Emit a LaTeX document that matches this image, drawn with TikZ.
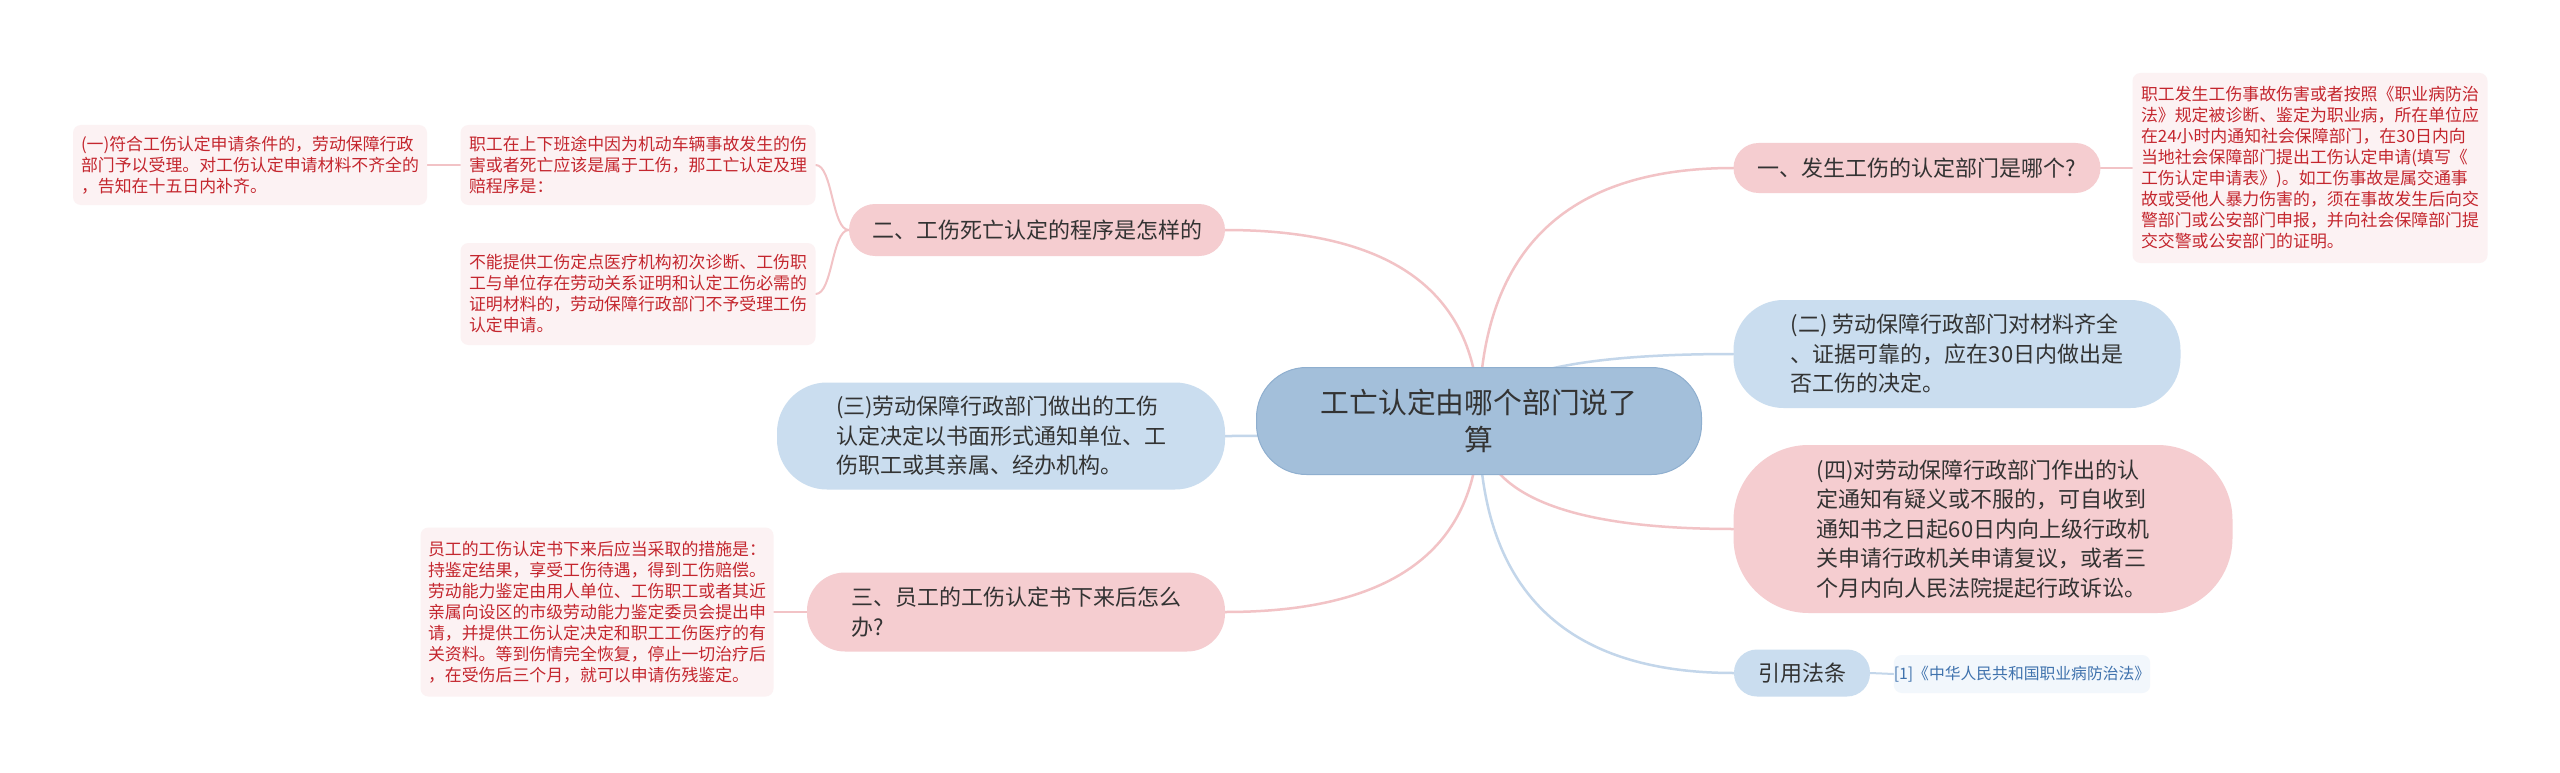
\documentclass[tikz,border=0pt]{standalone}
\usepackage{fontspec}
\setmainfont{Noto Sans CJK SC}
\usepackage{tikz}
\usetikzlibrary{calc,backgrounds}
\definecolor{rootfill}{HTML}{A3BFDA}
\definecolor{rootdraw}{HTML}{8FAFCF}
\definecolor{branchpink}{HTML}{F5CDD0}
\definecolor{branchblue}{HTML}{CADDEF}
\definecolor{leafpink}{HTML}{FCF2F3}
\definecolor{leafpinktext}{HTML}{C4262E}
\definecolor{leafblue}{HTML}{F2F7FC}
\definecolor{leafbluetext}{HTML}{3F72AD}
\definecolor{linkpink}{HTML}{F2C3C6}
\definecolor{linkblue}{HTML}{C3D6EA}
\definecolor{textdark}{HTML}{333333}

\begin{document}
\begin{tikzpicture}[
  x=1pt, y=-1pt,
  box/.style={inner sep=0pt, align=left, text=textdark},
  rootbox/.style={box, fill=rootfill, draw=rootdraw, line width=1pt,
                  rounded corners=50pt, align=center,
                  font=\fontsize{28.8}{37}\selectfont},
  pinkbranch/.style={box, fill=branchpink, font=\fontsize{22}{29.5}\selectfont},
  bluebranch/.style={box, fill=branchblue, font=\fontsize{22}{29.5}\selectfont},
  pinkleaf/.style={box, fill=leafpink, text=leafpinktext, rounded corners=8pt,
                   font=\fontsize{16.9}{21}\selectfont},
  blueleaf/.style={box, fill=leafblue, text=leafbluetext, rounded corners=8pt,
                   font=\fontsize{15.8}{20}\selectfont},
  link/.style={line width=2.5pt, line cap=round},
  pinklink/.style={link, draw=linkpink},
  bluelink/.style={link, draw=linkblue}
]
  \useasboundingbox (0,0) rectangle (2560,773);

  % Root
  \node[rootbox, minimum width=445pt, minimum height=107pt] (root) at (1479,421)
       {工亡认定由哪个部门说了\\算};

  % Right branches
  \node[pinkbranch, rounded corners=25pt, minimum width=367pt, minimum height=50pt]
       (q1) at (1917,168) {一、发生工伤的认定部门是哪个?};
  \node[bluebranch, rounded corners=50pt, minimum width=447pt, minimum height=108pt]
       (s2) at (1957,354)
       {(二) 劳动保障行政部门对材料齐全\\、证据可靠的，应在30日内做出是\\否工伤的决定。};
  \node[pinkbranch, rounded corners=75pt, minimum width=499pt, minimum height=168pt]
       (s4) at (1983,529)
       {(四)对劳动保障行政部门作出的认\\定通知有疑义或不服的，可自收到\\通知书之日起60日内向上级行政机\\关申请行政机关申请复议，或者三\\个月内向人民法院提起行政诉讼。};
  \node[bluebranch, rounded corners=23pt, minimum width=136pt, minimum height=47pt]
       (refs) at (1802,673) {引用法条};

  % Left branches
  \node[pinkbranch, rounded corners=26pt, minimum width=376pt, minimum height=52pt]
       (q2) at (1037,230) {二、工伤死亡认定的程序是怎样的};
  \node[bluebranch, rounded corners=50pt, minimum width=448pt, minimum height=107pt]
       (s3) at (1001,436)
       {(三)劳动保障行政部门做出的工伤\\认定决定以书面形式通知单位、工\\伤职工或其亲属、经办机构。};
  \node[pinkbranch, rounded corners=38pt, minimum width=418pt, minimum height=79pt]
       (q3) at (1016,612) {三、员工的工伤认定书下来后怎么\\办?};

  % Leaves
  \node[pinkleaf, minimum width=355pt, minimum height=190pt] (lawnote) at (2310,168)
       {职工发生工伤事故伤害或者按照《职业病防治\\法》规定被诊断、鉴定为职业病，所在单位应\\在24小时内通知社会保障部门，在30日内向\\当地社会保障部门提出工伤认定申请(填写《\\工伤认定申请表》)。如工伤事故是属交通事\\故或受他人暴力伤害的，须在事故发生后向交\\警部门或公安部门申报，并向社会保障部门提\\交交警或公安部门的证明。};
  \node[blueleaf, minimum width=245pt, minimum height=38pt] (lawref) at (2022,674)
       {[1]《中华人民共和国职业病防治法》};
  \node[pinkleaf, minimum width=355pt, minimum height=80pt] (commute) at (638,165)
       {职工在上下班途中因为机动车辆事故发生的伤\\害或者死亡应该是属于工伤，那工亡认定及理\\赔程序是：};
  \node[pinkleaf, minimum width=354pt, minimum height=80pt] (accept) at (250,165)
       {(一)符合工伤认定申请条件的，劳动保障行政\\部门予以受理。对工伤认定申请材料不齐全的\\，告知在十五日内补齐。};
  \node[pinkleaf, minimum width=355pt, minimum height=102pt] (reject) at (638,294)
       {不能提供工伤定点医疗机构初次诊断、工伤职\\工与单位存在劳动关系证明和认定工伤必需的\\证明材料的，劳动保障行政部门不予受理工伤\\认定申请。};
  \node[pinkleaf, minimum width=353pt, minimum height=169pt] (measures) at (597,612)
       {员工的工伤认定书下来后应当采取的措施是：\\持鉴定结果，享受工伤待遇，得到工伤赔偿。\\劳动能力鉴定由用人单位、工伤职工或者其近\\亲属向设区的市级劳动能力鉴定委员会提出申\\请，并提供工伤认定决定和职工工伤医疗的有\\关资料。等到伤情完全恢复，停止一切治疗后\\，在受伤后三个月，就可以申请伤残鉴定。};

  % Connectors behind the boxes
  \begin{scope}[on background layer]
    \fill[white] (0,0) rectangle (2560,773);
    \draw[pinklink] (root.center)
         .. controls ($(root.center)!0.667!(root.center |- q1.west)$)
         and ($(q1.west)!0.667!(root.center |- q1.west)$) .. (q1.west);
    \draw[bluelink] (root.center)
         .. controls ($(root.center)!0.667!(root.center |- s2.west)$)
         and ($(s2.west)!0.667!(root.center |- s2.west)$) .. (s2.west);
    \draw[pinklink] (root.center)
         .. controls ($(root.center)!0.667!(root.center |- s4.west)$)
         and ($(s4.west)!0.667!(root.center |- s4.west)$) .. (s4.west);
    \draw[bluelink] (root.center)
         .. controls ($(root.center)!0.667!(root.center |- refs.west)$)
         and ($(refs.west)!0.667!(root.center |- refs.west)$) .. (refs.west);
    \draw[pinklink] (root.center)
         .. controls ($(root.center)!0.667!(root.center |- q2.east)$)
         and ($(q2.east)!0.667!(root.center |- q2.east)$) .. (q2.east);
    \draw[bluelink] (root.center)
         .. controls ($(root.center)!0.667!(root.center |- s3.east)$)
         and ($(s3.east)!0.667!(root.center |- s3.east)$) .. (s3.east);
    \draw[pinklink] (root.center)
         .. controls ($(root.center)!0.667!(root.center |- q3.east)$)
         and ($(q3.east)!0.667!(root.center |- q3.east)$) .. (q3.east);

    \draw[pinklink, line width=2pt] (q1.east) -- (lawnote.west);
    \draw[bluelink, line width=2pt] (refs.east) -- (lawref.west);
    \draw[pinklink, line width=2pt] (q2.west)
         .. controls +(-17,0) and +(17,0) .. (commute.east);
    \draw[pinklink, line width=2pt] (q2.west)
         .. controls +(-17,0) and +(17,0) .. (reject.east);
    \draw[pinklink, line width=2pt] (commute.west) -- (accept.east);
    \draw[pinklink, line width=2pt] (q3.west) -- (measures.east);
  \end{scope}
\end{tikzpicture}
\end{document}
